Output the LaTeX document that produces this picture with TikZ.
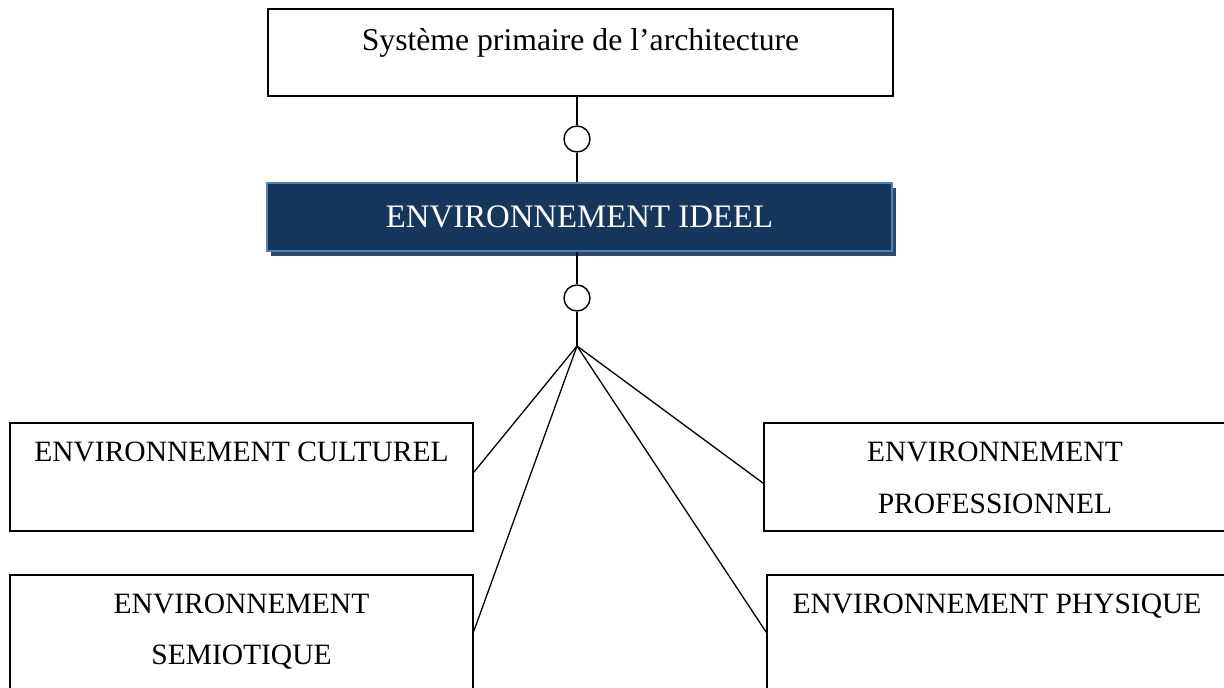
\documentclass[tikz,border=0pt]{standalone}
\usepackage{fontspec}
\setmainfont{Liberation Serif}
\usetikzlibrary{shadows,calc}
\definecolor{navy}{HTML}{17365D}
\definecolor{lblue}{HTML}{4F81BD}
\definecolor{shadowblue}{HTML}{33476A}
\begin{document}
\begin{tikzpicture}[x=1pt,y=-1pt,
  bigfont/.style={font=\fontsize{29.5}{51.5}\selectfont},
  box/.style={draw=black, line width=1.6pt, fill=white, bigfont, inner xsep=0pt, inner ysep=0pt, align=center},
  onebox/.style={draw=black, line width=1.6pt, fill=white, font=\fontsize{31.7}{38}\selectfont, inner xsep=0pt, inner ysep=0pt},
  ideal/.style={draw=lblue, line width=2.4pt, fill=navy, text=white, font=\fontsize{32.8}{38}\selectfont, inner sep=0pt,
    text height=21.7pt, text depth=0pt,
    drop shadow={shadow xshift=4pt, shadow yshift=-5pt, fill=shadowblue, opacity=1}},
  ring/.style={circle, draw=black, line width=1.4pt, fill=white, minimum size=26pt, inner sep=0pt},
  link/.style={draw=black, line width=1.3pt}
]
\useasboundingbox (0,0) rectangle (1224,688);
\clip (0,0) rectangle (1224,688);

% top box
\node[onebox, minimum width=625pt, text height=41pt, text depth=46pt] (top) at (580.5,52.5) {Système primaire de l’architecture};

% ideal environment box
\node[ideal, minimum width=625pt, minimum height=68pt] (ideal) at (579.5,217) {ENVIRONNEMENT IDEEL};

% rings
\node[ring] (c1) at (577,139) {};
\node[ring] (c2) at (577,298) {};
\coordinate (hub) at (577,346);

% bottom boxes
\node[box, minimum width=463pt, minimum height=108pt] (cult) at (241.5,477) {\strut ENVIRONNEMENT CULTUREL\\\strut};
\node[box, minimum width=463pt, minimum height=158.4pt] (sem) at (241.5,654.2) {\strut ENVIRONNEMENT\\\strut SEMIOTIQUE\\\strut};
\node[box, minimum width=462pt, minimum height=108pt] (prof) at (995,477) {\strut ENVIRONNEMENT\\\strut PROFESSIONNEL};
\node[box, minimum width=460pt, minimum height=158.4pt] (phys) at (997,654.2) {\strut ENVIRONNEMENT PHYSIQUE\\\strut\\\strut};

% connectors
\draw[link] (c1 |- top.south) -- (c1.north);
\draw[link] (c1.south) -- (c1 |- ideal.north);
\draw[link] (c2 |- ideal.south) -- (c2.north);
\draw[link] (c2.south) -- (hub);
\draw[link] (hub) -- ($(cult.north east)+(0,50)$);
\draw[link] (hub) -- ($(sem.north east)+(0,57)$);
\draw[link] (hub) -- ($(prof.north west)+(0,61)$);
\draw[link] (hub) -- ($(phys.north west)+(0,58)$);
\end{tikzpicture}
\end{document}
